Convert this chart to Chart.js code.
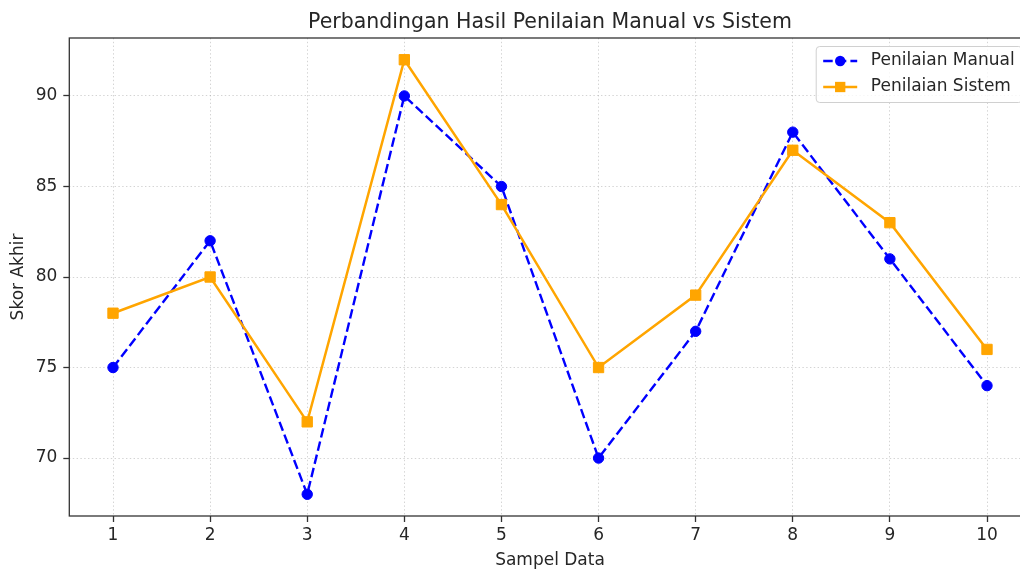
<!DOCTYPE html>
<html>
<head>
<meta charset="utf-8">
<script src="https://cdn.jsdelivr.net/npm/chart.js@4"></script>
<style>
html, body { margin: 0; padding: 0; overflow: hidden; background: #fff; }
</style>
</head>
<body>
<canvas id="myChart" width="1040" height="570"></canvas>
<script>
var samples = [1, 2, 3, 4, 5, 6, 7, 8, 9, 10];
var manualScores = [75, 82, 68, 90, 85, 70, 77, 88, 81, 74];
var systemScores = [78, 80, 72, 92, 84, 75, 79, 87, 83, 76];
var yTicks = [70, 75, 80, 85, 90];
var seriesNames = ["Penilaian Manual", "Penilaian Sistem"];
var chartTitle = "Perbandingan Hasil Penilaian Manual vs Sistem";
var xTitle = "Sampel Data";
var yTitle = "Skor Akhir";

var FONT = '"DejaVu Sans", sans-serif';
var BLUE = '#0000ff';
var ORANGE = '#ffa500';
var TEXT = '#262626';

function toPoints(values){
    return samples.map(function(s, i){ return {x: s, y: values[i]}; });
}

// title, top/right spines and the in-plot legend (matplotlib look)
var framePlugin = {
    id: 'frame',
    afterDraw: function(chart){
        var ctx = chart.ctx, a = chart.chartArea;
        ctx.save();
        ctx.strokeStyle = '#333';
        ctx.lineWidth = 1.3;
        ctx.strokeRect(a.left, a.top, a.right - a.left, a.bottom - a.top);

        ctx.fillStyle = TEXT;
        ctx.font = '20.5px ' + FONT;
        ctx.textAlign = 'center';
        ctx.textBaseline = 'alphabetic';
        ctx.fillText(chartTitle, (a.left + a.right) / 2, a.top - 10);

        // legend box
        var w = 206, h = 56, r = 3.5;
        var bx = a.right - 8.5 - w, by = a.top + 8.5;
        ctx.beginPath();
        ctx.moveTo(bx + r, by);
        ctx.arcTo(bx + w, by, bx + w, by + h, r);
        ctx.arcTo(bx + w, by + h, bx, by + h, r);
        ctx.arcTo(bx, by + h, bx, by, r);
        ctx.arcTo(bx, by, bx + w, by, r);
        ctx.closePath();
        ctx.fillStyle = 'rgba(255,255,255,0.8)';
        ctx.fill();
        ctx.strokeStyle = '#d0d0d0';
        ctx.lineWidth = 1;
        ctx.stroke();

        chart.data.datasets.forEach(function(ds, i){
            var y = by + 14.5 + i * 26;
            var x0 = bx + 7, x1 = x0 + 34;
            ctx.beginPath();
            ctx.setLineDash(ds.borderDash || []);
            ctx.strokeStyle = ds.borderColor;
            ctx.lineWidth = ds.borderWidth;
            ctx.moveTo(x0, y);
            ctx.lineTo(x1, y);
            ctx.stroke();
            ctx.setLineDash([]);
            ctx.fillStyle = ds.pointBackgroundColor;
            var cx = (x0 + x1) / 2;
            if (ds.pointStyle === 'rect') {
                var s = ds.pointRadius * Math.SQRT1_2;
                ctx.fillRect(cx - s, y - s, 2 * s, 2 * s);
            } else {
                ctx.beginPath();
                ctx.arc(cx, y, ds.pointRadius, 0, Math.PI * 2);
                ctx.fill();
            }
            ctx.fillStyle = TEXT;
            ctx.font = '17px ' + FONT;
            ctx.textAlign = 'left';
            ctx.textBaseline = 'middle';
            ctx.fillText(ds.label, x1 + 13.6, y);
        });
        ctx.restore();
    }
};

new Chart(document.getElementById('myChart'), {
    type: 'line',
    data: {
        datasets: [{
            label: seriesNames[0],
            data: toPoints(manualScores),
            borderColor: BLUE,
            backgroundColor: BLUE,
            borderWidth: 2.4,
            borderDash: [9.5, 4.1],
            pointStyle: 'circle',
            pointRadius: 5.2,
            pointBackgroundColor: BLUE,
            pointBorderColor: BLUE,
            pointBorderWidth: 1,
            tension: 0,
            order: 2
        }, {
            label: seriesNames[1],
            data: toPoints(systemScores),
            borderColor: ORANGE,
            backgroundColor: ORANGE,
            borderWidth: 2.5,
            pointStyle: 'rect',
            pointRadius: 7.3,
            pointBackgroundColor: ORANGE,
            pointBorderColor: ORANGE,
            pointBorderWidth: 1,
            tension: 0,
            order: 1
        }]
    },
    options: {
        responsive: false,
        animation: false,
        layout: { padding: { top: 38, right: 9.3, left: 0, bottom: 0 } },
        plugins: {
            legend: { display: false },
            title: { display: false },
            tooltip: { enabled: false }
        },
        scales: {
            x: {
                type: 'linear',
                min: 0.55,
                max: 10.45,
                afterFit: function(scale){ scale.height = 54; },
                afterBuildTicks: function(scale){
                    scale.ticks = samples.map(function(v){ return {value: v}; });
                },
                ticks: {
                    color: TEXT,
                    font: { family: FONT, size: 17 },
                    padding: 3,
                    maxRotation: 0,
                    autoSkip: false
                },
                grid: {
                    color: 'rgba(170,170,170,0.5)',
                    lineWidth: 1,
                    tickColor: '#333',
                    tickWidth: 1.3,
                    tickLength: 6
                },
                border: { display: false, dash: [1.4, 2.4] },
                title: {
                    display: true,
                    text: xTitle,
                    color: TEXT,
                    font: { family: FONT, size: 17 },
                    padding: { top: 0, bottom: -1 }
                }
            },
            y: {
                min: 66.8,
                max: 93.2,
                afterFit: function(scale){ scale.width = 69.3; },
                afterBuildTicks: function(scale){
                    scale.ticks = yTicks.map(function(v){ return {value: v}; });
                },
                ticks: {
                    color: TEXT,
                    font: { family: FONT, size: 17 },
                    padding: 6
                },
                grid: {
                    color: 'rgba(170,170,170,0.5)',
                    lineWidth: 1,
                    tickColor: '#333',
                    tickWidth: 1.3,
                    tickLength: 6
                },
                border: { display: false, dash: [1.4, 2.4] },
                title: {
                    display: true,
                    text: yTitle,
                    color: TEXT,
                    font: { family: FONT, size: 17 },
                    padding: { top: 8, bottom: 0 }
                }
            }
        }
    },
    plugins: [framePlugin]
});
</script>
</body>
</html>
